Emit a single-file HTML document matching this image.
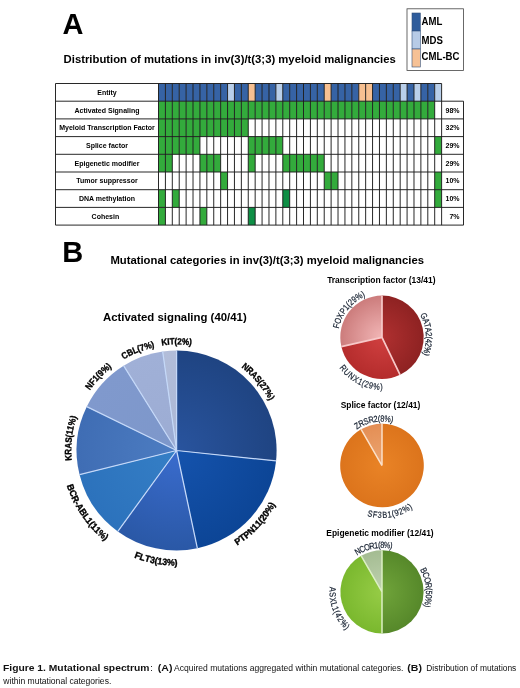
<!DOCTYPE html>
<html><head><meta charset="utf-8"><title>Figure 1</title>
<style>
html,body{margin:0;padding:0;background:#fff;}
body{width:520px;height:688px;overflow:hidden;font-family:"Liberation Sans",sans-serif;}
svg{display:block;font-family:"Liberation Sans",sans-serif;filter:blur(0.5px);}
text{font-family:"Liberation Sans",sans-serif;}
</style></head><body>
<svg width="520" height="688" viewBox="0 0 520 688">
<defs>
<radialGradient id="g0_0" gradientUnits="userSpaceOnUse" cx="176.6" cy="450.5" r="100"><stop offset="0" stop-color="#29549e"/><stop offset="1" stop-color="#1f4482"/></radialGradient>
<radialGradient id="g0_1" gradientUnits="userSpaceOnUse" cx="176.6" cy="450.5" r="100"><stop offset="0" stop-color="#1553ad"/><stop offset="1" stop-color="#0c4596"/></radialGradient>
<radialGradient id="g0_2" gradientUnits="userSpaceOnUse" cx="176.6" cy="450.5" r="100"><stop offset="0" stop-color="#3a6cce"/><stop offset="1" stop-color="#2a58a6"/></radialGradient>
<radialGradient id="g0_3" gradientUnits="userSpaceOnUse" cx="176.6" cy="450.5" r="100"><stop offset="0" stop-color="#357fc6"/><stop offset="1" stop-color="#2c72bc"/></radialGradient>
<radialGradient id="g0_4" gradientUnits="userSpaceOnUse" cx="176.6" cy="450.5" r="100"><stop offset="0" stop-color="#4d7dc2"/><stop offset="1" stop-color="#3f6db4"/></radialGradient>
<radialGradient id="g0_5" gradientUnits="userSpaceOnUse" cx="176.6" cy="450.5" r="100"><stop offset="0" stop-color="#7d97ca"/><stop offset="1" stop-color="#8099cd"/></radialGradient>
<radialGradient id="g0_6" gradientUnits="userSpaceOnUse" cx="176.6" cy="450.5" r="100"><stop offset="0" stop-color="#9cacd3"/><stop offset="1" stop-color="#a0b0d7"/></radialGradient>
<radialGradient id="g0_7" gradientUnits="userSpaceOnUse" cx="176.6" cy="450.5" r="100"><stop offset="0" stop-color="#aab7d5"/><stop offset="1" stop-color="#b2bdd9"/></radialGradient>
<radialGradient id="g8_0" gradientUnits="userSpaceOnUse" cx="382" cy="337.3" r="41.7"><stop offset="0" stop-color="#b03030"/><stop offset="1" stop-color="#8e2222"/></radialGradient>
<radialGradient id="g8_1" gradientUnits="userSpaceOnUse" cx="382" cy="337.3" r="41.7"><stop offset="0" stop-color="#d04040"/><stop offset="1" stop-color="#b42c2c"/></radialGradient>
<radialGradient id="g8_2" gradientUnits="userSpaceOnUse" cx="382" cy="337.3" r="41.7"><stop offset="0" stop-color="#f2b6b6"/><stop offset="1" stop-color="#cc7c7c"/></radialGradient>
<radialGradient id="g11_0" gradientUnits="userSpaceOnUse" cx="382" cy="465.5" r="41.8"><stop offset="0" stop-color="#e98326"/><stop offset="1" stop-color="#dc741c"/></radialGradient>
<radialGradient id="g11_1" gradientUnits="userSpaceOnUse" cx="382" cy="465.5" r="41.8"><stop offset="0" stop-color="#eca672"/><stop offset="1" stop-color="#e48e54"/></radialGradient>
<radialGradient id="g13_0" gradientUnits="userSpaceOnUse" cx="382" cy="591.8" r="41.6"><stop offset="0" stop-color="#70a43a"/><stop offset="1" stop-color="#56882a"/></radialGradient>
<radialGradient id="g13_1" gradientUnits="userSpaceOnUse" cx="382" cy="591.8" r="41.6"><stop offset="0" stop-color="#96cc46"/><stop offset="1" stop-color="#7ab82e"/></radialGradient>
<radialGradient id="g13_2" gradientUnits="userSpaceOnUse" cx="382" cy="591.8" r="41.6"><stop offset="0" stop-color="#c0d2b0"/><stop offset="1" stop-color="#a4bc92"/></radialGradient>
</defs>
<rect width="520" height="688" fill="#fff"/>
<text x="62.4" y="33.5" font-size="29" font-weight="700">A</text>
<text x="63.6" y="63.3" font-size="11.3" font-weight="700" textLength="332.2" lengthAdjust="spacingAndGlyphs">Distribution of mutations in inv(3)/t(3;3) myeloid malignancies</text>
<rect x="407" y="8.8" width="56.5" height="61.6" fill="#fff" stroke="#444" stroke-width="0.8"/>
<rect x="412" y="13.0" width="8.3" height="18.0" fill="#2e5c9c" stroke="#33507a" stroke-width="0.6"/>
<text transform="translate(421.6,25.3) scale(0.925,1)" font-size="10.4" font-weight="700">AML</text>
<rect x="412" y="31.0" width="8.3" height="18.0" fill="#b7cbe6" stroke="#33507a" stroke-width="0.6"/>
<text transform="translate(421.6,43.5) scale(0.925,1)" font-size="10.4" font-weight="700">MDS</text>
<rect x="412" y="49.0" width="8.3" height="18.0" fill="#f6c195" stroke="#33507a" stroke-width="0.6"/>
<text transform="translate(421.6,60.4) scale(0.925,1)" font-size="10.4" font-weight="700">CML-BC</text>
<rect x="158.50" y="83.50" width="6.91" height="17.70" fill="#3663a5"/>
<rect x="165.41" y="83.50" width="6.91" height="17.70" fill="#3663a5"/>
<rect x="172.31" y="83.50" width="6.91" height="17.70" fill="#3663a5"/>
<rect x="179.22" y="83.50" width="6.91" height="17.70" fill="#3663a5"/>
<rect x="186.12" y="83.50" width="6.91" height="17.70" fill="#3663a5"/>
<rect x="193.03" y="83.50" width="6.91" height="17.70" fill="#3663a5"/>
<rect x="199.93" y="83.50" width="6.91" height="17.70" fill="#3663a5"/>
<rect x="206.84" y="83.50" width="6.91" height="17.70" fill="#3663a5"/>
<rect x="213.74" y="83.50" width="6.91" height="17.70" fill="#3663a5"/>
<rect x="220.65" y="83.50" width="6.91" height="17.70" fill="#3663a5"/>
<rect x="227.55" y="83.50" width="6.91" height="17.70" fill="#b9cfea"/>
<rect x="234.45" y="83.50" width="6.91" height="17.70" fill="#3663a5"/>
<rect x="241.36" y="83.50" width="6.91" height="17.70" fill="#3663a5"/>
<rect x="248.26" y="83.50" width="6.91" height="17.70" fill="#f7c091"/>
<rect x="255.17" y="83.50" width="6.91" height="17.70" fill="#3663a5"/>
<rect x="262.07" y="83.50" width="6.91" height="17.70" fill="#3663a5"/>
<rect x="268.98" y="83.50" width="6.91" height="17.70" fill="#3663a5"/>
<rect x="275.88" y="83.50" width="6.91" height="17.70" fill="#b9cfea"/>
<rect x="282.79" y="83.50" width="6.91" height="17.70" fill="#3663a5"/>
<rect x="289.69" y="83.50" width="6.91" height="17.70" fill="#3663a5"/>
<rect x="296.60" y="83.50" width="6.91" height="17.70" fill="#3663a5"/>
<rect x="303.50" y="83.50" width="6.91" height="17.70" fill="#3663a5"/>
<rect x="310.41" y="83.50" width="6.91" height="17.70" fill="#3663a5"/>
<rect x="317.31" y="83.50" width="6.91" height="17.70" fill="#3663a5"/>
<rect x="324.22" y="83.50" width="6.91" height="17.70" fill="#f7c091"/>
<rect x="331.12" y="83.50" width="6.91" height="17.70" fill="#3663a5"/>
<rect x="338.03" y="83.50" width="6.91" height="17.70" fill="#3663a5"/>
<rect x="344.94" y="83.50" width="6.91" height="17.70" fill="#3663a5"/>
<rect x="351.84" y="83.50" width="6.91" height="17.70" fill="#3663a5"/>
<rect x="358.75" y="83.50" width="6.91" height="17.70" fill="#f7c091"/>
<rect x="365.65" y="83.50" width="6.91" height="17.70" fill="#f7c091"/>
<rect x="372.56" y="83.50" width="6.91" height="17.70" fill="#3663a5"/>
<rect x="379.46" y="83.50" width="6.91" height="17.70" fill="#3663a5"/>
<rect x="386.37" y="83.50" width="6.91" height="17.70" fill="#3663a5"/>
<rect x="393.27" y="83.50" width="6.91" height="17.70" fill="#3663a5"/>
<rect x="400.18" y="83.50" width="6.91" height="17.70" fill="#b9cfea"/>
<rect x="407.08" y="83.50" width="6.91" height="17.70" fill="#3663a5"/>
<rect x="413.99" y="83.50" width="6.91" height="17.70" fill="#b9cfea"/>
<rect x="420.89" y="83.50" width="6.91" height="17.70" fill="#3663a5"/>
<rect x="427.80" y="83.50" width="6.91" height="17.70" fill="#3663a5"/>
<rect x="434.70" y="83.50" width="6.91" height="17.70" fill="#b9cfea"/>
<rect x="158.50" y="101.20" width="6.91" height="17.70" fill="#33ab3c"/>
<rect x="165.41" y="101.20" width="6.91" height="17.70" fill="#33ab3c"/>
<rect x="172.31" y="101.20" width="6.91" height="17.70" fill="#33ab3c"/>
<rect x="179.22" y="101.20" width="6.91" height="17.70" fill="#33ab3c"/>
<rect x="186.12" y="101.20" width="6.91" height="17.70" fill="#33ab3c"/>
<rect x="193.03" y="101.20" width="6.91" height="17.70" fill="#33ab3c"/>
<rect x="199.93" y="101.20" width="6.91" height="17.70" fill="#33ab3c"/>
<rect x="206.84" y="101.20" width="6.91" height="17.70" fill="#33ab3c"/>
<rect x="213.74" y="101.20" width="6.91" height="17.70" fill="#33ab3c"/>
<rect x="220.65" y="101.20" width="6.91" height="17.70" fill="#33ab3c"/>
<rect x="227.55" y="101.20" width="6.91" height="17.70" fill="#33ab3c"/>
<rect x="234.45" y="101.20" width="6.91" height="17.70" fill="#33ab3c"/>
<rect x="241.36" y="101.20" width="6.91" height="17.70" fill="#33ab3c"/>
<rect x="248.26" y="101.20" width="6.91" height="17.70" fill="#33ab3c"/>
<rect x="255.17" y="101.20" width="6.91" height="17.70" fill="#33ab3c"/>
<rect x="262.07" y="101.20" width="6.91" height="17.70" fill="#33ab3c"/>
<rect x="268.98" y="101.20" width="6.91" height="17.70" fill="#33ab3c"/>
<rect x="275.88" y="101.20" width="6.91" height="17.70" fill="#33ab3c"/>
<rect x="282.79" y="101.20" width="6.91" height="17.70" fill="#33ab3c"/>
<rect x="289.69" y="101.20" width="6.91" height="17.70" fill="#33ab3c"/>
<rect x="296.60" y="101.20" width="6.91" height="17.70" fill="#33ab3c"/>
<rect x="303.50" y="101.20" width="6.91" height="17.70" fill="#33ab3c"/>
<rect x="310.41" y="101.20" width="6.91" height="17.70" fill="#33ab3c"/>
<rect x="317.31" y="101.20" width="6.91" height="17.70" fill="#33ab3c"/>
<rect x="324.22" y="101.20" width="6.91" height="17.70" fill="#33ab3c"/>
<rect x="331.12" y="101.20" width="6.91" height="17.70" fill="#33ab3c"/>
<rect x="338.03" y="101.20" width="6.91" height="17.70" fill="#33ab3c"/>
<rect x="344.94" y="101.20" width="6.91" height="17.70" fill="#33ab3c"/>
<rect x="351.84" y="101.20" width="6.91" height="17.70" fill="#33ab3c"/>
<rect x="358.75" y="101.20" width="6.91" height="17.70" fill="#33ab3c"/>
<rect x="365.65" y="101.20" width="6.91" height="17.70" fill="#33ab3c"/>
<rect x="372.56" y="101.20" width="6.91" height="17.70" fill="#33ab3c"/>
<rect x="379.46" y="101.20" width="6.91" height="17.70" fill="#33ab3c"/>
<rect x="386.37" y="101.20" width="6.91" height="17.70" fill="#33ab3c"/>
<rect x="393.27" y="101.20" width="6.91" height="17.70" fill="#33ab3c"/>
<rect x="400.18" y="101.20" width="6.91" height="17.70" fill="#33ab3c"/>
<rect x="407.08" y="101.20" width="6.91" height="17.70" fill="#33ab3c"/>
<rect x="413.99" y="101.20" width="6.91" height="17.70" fill="#33ab3c"/>
<rect x="420.89" y="101.20" width="6.91" height="17.70" fill="#33ab3c"/>
<rect x="427.80" y="101.20" width="6.91" height="17.70" fill="#33ab3c"/>
<rect x="158.50" y="118.90" width="6.91" height="17.70" fill="#33ab3c"/>
<rect x="165.41" y="118.90" width="6.91" height="17.70" fill="#33ab3c"/>
<rect x="172.31" y="118.90" width="6.91" height="17.70" fill="#33ab3c"/>
<rect x="179.22" y="118.90" width="6.91" height="17.70" fill="#33ab3c"/>
<rect x="186.12" y="118.90" width="6.91" height="17.70" fill="#33ab3c"/>
<rect x="193.03" y="118.90" width="6.91" height="17.70" fill="#33ab3c"/>
<rect x="199.93" y="118.90" width="6.91" height="17.70" fill="#33ab3c"/>
<rect x="206.84" y="118.90" width="6.91" height="17.70" fill="#33ab3c"/>
<rect x="213.74" y="118.90" width="6.91" height="17.70" fill="#33ab3c"/>
<rect x="220.65" y="118.90" width="6.91" height="17.70" fill="#33ab3c"/>
<rect x="227.55" y="118.90" width="6.91" height="17.70" fill="#33ab3c"/>
<rect x="234.45" y="118.90" width="6.91" height="17.70" fill="#33ab3c"/>
<rect x="241.36" y="118.90" width="6.91" height="17.70" fill="#33ab3c"/>
<rect x="158.50" y="136.60" width="6.91" height="17.70" fill="#33ab3c"/>
<rect x="165.41" y="136.60" width="6.91" height="17.70" fill="#33ab3c"/>
<rect x="172.31" y="136.60" width="6.91" height="17.70" fill="#33ab3c"/>
<rect x="179.22" y="136.60" width="6.91" height="17.70" fill="#33ab3c"/>
<rect x="186.12" y="136.60" width="6.91" height="17.70" fill="#33ab3c"/>
<rect x="193.03" y="136.60" width="6.91" height="17.70" fill="#33ab3c"/>
<rect x="248.26" y="136.60" width="6.91" height="17.70" fill="#33ab3c"/>
<rect x="255.17" y="136.60" width="6.91" height="17.70" fill="#33ab3c"/>
<rect x="262.07" y="136.60" width="6.91" height="17.70" fill="#33ab3c"/>
<rect x="268.98" y="136.60" width="6.91" height="17.70" fill="#33ab3c"/>
<rect x="275.88" y="136.60" width="6.91" height="17.70" fill="#33ab3c"/>
<rect x="434.70" y="136.60" width="6.91" height="17.70" fill="#33ab3c"/>
<rect x="158.50" y="154.30" width="6.91" height="17.70" fill="#33ab3c"/>
<rect x="165.41" y="154.30" width="6.91" height="17.70" fill="#33ab3c"/>
<rect x="199.93" y="154.30" width="6.91" height="17.70" fill="#33ab3c"/>
<rect x="206.84" y="154.30" width="6.91" height="17.70" fill="#33ab3c"/>
<rect x="213.74" y="154.30" width="6.91" height="17.70" fill="#33ab3c"/>
<rect x="248.26" y="154.30" width="6.91" height="17.70" fill="#33ab3c"/>
<rect x="282.79" y="154.30" width="6.91" height="17.70" fill="#33ab3c"/>
<rect x="289.69" y="154.30" width="6.91" height="17.70" fill="#33ab3c"/>
<rect x="296.60" y="154.30" width="6.91" height="17.70" fill="#33ab3c"/>
<rect x="303.50" y="154.30" width="6.91" height="17.70" fill="#33ab3c"/>
<rect x="310.41" y="154.30" width="6.91" height="17.70" fill="#33ab3c"/>
<rect x="317.31" y="154.30" width="6.91" height="17.70" fill="#33ab3c"/>
<rect x="220.65" y="172.00" width="6.91" height="17.70" fill="#33ab3c"/>
<rect x="324.22" y="172.00" width="6.91" height="17.70" fill="#33ab3c"/>
<rect x="331.12" y="172.00" width="6.91" height="17.70" fill="#33ab3c"/>
<rect x="434.70" y="172.00" width="6.91" height="17.70" fill="#33ab3c"/>
<rect x="158.50" y="189.70" width="6.91" height="17.70" fill="#33ab3c"/>
<rect x="172.31" y="189.70" width="6.91" height="17.70" fill="#33ab3c"/>
<rect x="282.79" y="189.70" width="6.91" height="17.70" fill="#0e8f45"/>
<rect x="434.70" y="189.70" width="6.91" height="17.70" fill="#33ab3c"/>
<rect x="158.50" y="207.40" width="6.91" height="17.70" fill="#33ab3c"/>
<rect x="199.93" y="207.40" width="6.91" height="17.70" fill="#33ab3c"/>
<rect x="248.26" y="207.40" width="6.91" height="17.70" fill="#0e8f45"/>
<path d="M55.5,83.50H441.61 M55.5,101.20H463.50 M55.5,118.90H463.50 M55.5,136.60H463.50 M55.5,154.30H463.50 M55.5,172.00H463.50 M55.5,189.70H463.50 M55.5,207.40H463.50 M55.5,225.10H463.50 M158.50,83.5V225.10 M165.41,83.5V225.10 M172.31,83.5V225.10 M179.22,83.5V225.10 M186.12,83.5V225.10 M193.03,83.5V225.10 M199.93,83.5V225.10 M206.84,83.5V225.10 M213.74,83.5V225.10 M220.65,83.5V225.10 M227.55,83.5V225.10 M234.45,83.5V225.10 M241.36,83.5V225.10 M248.26,83.5V225.10 M255.17,83.5V225.10 M262.07,83.5V225.10 M268.98,83.5V225.10 M275.88,83.5V225.10 M282.79,83.5V225.10 M289.69,83.5V225.10 M296.60,83.5V225.10 M303.50,83.5V225.10 M310.41,83.5V225.10 M317.31,83.5V225.10 M324.22,83.5V225.10 M331.12,83.5V225.10 M338.03,83.5V225.10 M344.94,83.5V225.10 M351.84,83.5V225.10 M358.75,83.5V225.10 M365.65,83.5V225.10 M372.56,83.5V225.10 M379.46,83.5V225.10 M386.37,83.5V225.10 M393.27,83.5V225.10 M400.18,83.5V225.10 M407.08,83.5V225.10 M413.99,83.5V225.10 M420.89,83.5V225.10 M427.80,83.5V225.10 M434.70,83.5V225.10 M441.61,83.5V225.10 M55.5,83.5V225.10 M463.5,101.20V225.10" stroke="#1c1c1c" stroke-width="0.95" fill="none"/>
<text x="107.0" y="94.9" font-size="7.0" font-weight="700" text-anchor="middle">Entity</text>
<text x="107.0" y="112.6" font-size="7.0" font-weight="700" text-anchor="middle">Activated Signaling</text>
<text x="459.6" y="112.6" font-size="7" font-weight="700" text-anchor="end">98%</text>
<text x="107.0" y="130.3" font-size="7.0" font-weight="700" text-anchor="middle">Myeloid Transcription Factor</text>
<text x="459.6" y="130.3" font-size="7" font-weight="700" text-anchor="end">32%</text>
<text x="107.0" y="148.0" font-size="7.0" font-weight="700" text-anchor="middle">Splice factor</text>
<text x="459.6" y="148.0" font-size="7" font-weight="700" text-anchor="end">29%</text>
<text x="107.0" y="165.8" font-size="7.0" font-weight="700" text-anchor="middle">Epigenetic modifier</text>
<text x="459.6" y="165.8" font-size="7" font-weight="700" text-anchor="end">29%</text>
<text x="107.0" y="183.4" font-size="7.0" font-weight="700" text-anchor="middle">Tumor suppressor</text>
<text x="459.6" y="183.4" font-size="7" font-weight="700" text-anchor="end">10%</text>
<text x="107.0" y="201.1" font-size="7.0" font-weight="700" text-anchor="middle">DNA methylation</text>
<text x="459.6" y="201.1" font-size="7" font-weight="700" text-anchor="end">10%</text>
<text x="105.4" y="218.8" font-size="7.0" font-weight="700" text-anchor="middle">Cohesin</text>
<text x="459.6" y="218.8" font-size="7" font-weight="700" text-anchor="end">7%</text>
<text x="62.2" y="262.4" font-size="29" font-weight="700">B</text>
<text x="110.4" y="264.3" font-size="11.3" font-weight="700" textLength="313.6" lengthAdjust="spacingAndGlyphs">Mutational categories in inv(3)/t(3;3) myeloid malignancies</text>
<text x="103" y="321" font-size="11.4" font-weight="700">Activated signaling (40/41)</text>
<path d="M176.60,450.50 L176.60,350.50 A100,100 0 0 1 276.05,460.95 Z" fill="url(#g0_0)"/>
<path d="M176.60,450.50 L276.05,460.95 A100,100 0 0 1 197.39,548.31 Z" fill="url(#g0_1)"/>
<path d="M176.60,450.50 L197.39,548.31 A100,100 0 0 1 117.82,531.40 Z" fill="url(#g0_2)"/>
<path d="M176.60,450.50 L117.82,531.40 A100,100 0 0 1 79.57,474.69 Z" fill="url(#g0_3)"/>
<path d="M176.60,450.50 L79.57,474.69 A100,100 0 0 1 86.72,406.66 Z" fill="url(#g0_4)"/>
<path d="M176.60,450.50 L86.72,406.66 A100,100 0 0 1 123.61,365.70 Z" fill="url(#g0_5)"/>
<path d="M176.60,450.50 L123.61,365.70 A100,100 0 0 1 162.68,351.47 Z" fill="url(#g0_6)"/>
<path d="M176.60,450.50 L162.68,351.47 A100,100 0 0 1 176.60,350.50 Z" fill="url(#g0_7)"/>
<path d="M176.6,450.5L176.60,350.50 M176.6,450.5L276.05,460.95 M176.6,450.5L197.39,548.31 M176.6,450.5L117.82,531.40 M176.6,450.5L79.57,474.69 M176.6,450.5L86.72,406.66 M176.6,450.5L123.61,365.70 M176.6,450.5L162.68,351.47" stroke="#c4d8f8" stroke-width="1.25" fill="none"/>
<g font-size="9.2" font-weight="700" fill="#000" stroke="#000" stroke-width="0.38"><text transform="translate(243.42,368.99) rotate(39.34) scale(0.875,1)" text-anchor="middle">N</text><text transform="translate(247.81,372.80) rotate(42.50) scale(0.875,1)" text-anchor="middle">R</text><text transform="translate(251.99,376.84) rotate(45.66) scale(0.875,1)" text-anchor="middle">A</text><text transform="translate(255.79,380.94) rotate(48.70) scale(0.875,1)" text-anchor="middle">S</text><text transform="translate(258.39,384.02) rotate(50.89) scale(0.875,1)" text-anchor="middle">(</text><text transform="translate(260.60,386.83) rotate(52.84) scale(0.875,1)" text-anchor="middle">2</text><text transform="translate(263.22,390.45) rotate(55.27) scale(0.875,1)" text-anchor="middle">7</text><text transform="translate(266.40,395.32) rotate(58.43) scale(0.875,1)" text-anchor="middle">%</text><text transform="translate(268.88,399.57) rotate(61.11) scale(0.875,1)" text-anchor="middle">)</text></g>
<g font-size="9.2" font-weight="700" fill="#000" stroke="#000" stroke-width="0.38"><text transform="translate(239.70,543.76) rotate(-34.08) scale(0.955,1)" text-anchor="middle">P</text><text transform="translate(244.26,540.50) rotate(-36.94) scale(0.955,1)" text-anchor="middle">T</text><text transform="translate(248.67,537.02) rotate(-39.79) scale(0.955,1)" text-anchor="middle">P</text><text transform="translate(253.25,532.99) rotate(-42.90) scale(0.955,1)" text-anchor="middle">N</text><text transform="translate(257.26,529.06) rotate(-45.76) scale(0.955,1)" text-anchor="middle">1</text><text transform="translate(260.60,525.49) rotate(-48.24) scale(0.955,1)" text-anchor="middle">1</text><text transform="translate(263.15,522.53) rotate(-50.23) scale(0.955,1)" text-anchor="middle">(</text><text transform="translate(265.59,519.49) rotate(-52.22) scale(0.955,1)" text-anchor="middle">2</text><text transform="translate(268.50,515.56) rotate(-54.70) scale(0.955,1)" text-anchor="middle">0</text><text transform="translate(272.02,510.28) rotate(-57.93) scale(0.955,1)" text-anchor="middle">%</text><text transform="translate(274.76,505.66) rotate(-60.67) scale(0.955,1)" text-anchor="middle">)</text></g>
<g font-size="9.2" font-weight="700" fill="#000" stroke="#000" stroke-width="0.38"><text transform="translate(136.61,558.54) rotate(20.31) scale(0.955,1)" text-anchor="middle">F</text><text transform="translate(141.68,560.28) rotate(17.64) scale(0.955,1)" text-anchor="middle">L</text><text transform="translate(146.83,561.79) rotate(14.97) scale(0.955,1)" text-anchor="middle">T</text><text transform="translate(151.81,563.00) rotate(12.42) scale(0.955,1)" text-anchor="middle">3</text><text transform="translate(155.64,563.78) rotate(10.48) scale(0.955,1)" text-anchor="middle">(</text><text transform="translate(159.50,564.42) rotate(8.54) scale(0.955,1)" text-anchor="middle">1</text><text transform="translate(164.34,565.05) rotate(6.11) scale(0.955,1)" text-anchor="middle">3</text><text transform="translate(170.67,565.55) rotate(2.95) scale(0.955,1)" text-anchor="middle">%</text><text transform="translate(176.04,565.70) rotate(0.28) scale(0.955,1)" text-anchor="middle">)</text></g>
<g font-size="9.2" font-weight="700" fill="#000" stroke="#000" stroke-width="0.38"><text transform="translate(67.86,488.54) rotate(70.72) scale(0.955,1)" text-anchor="middle">B</text><text transform="translate(70.12,494.47) rotate(67.56) scale(0.955,1)" text-anchor="middle">C</text><text transform="translate(72.70,500.27) rotate(64.41) scale(0.955,1)" text-anchor="middle">R</text><text transform="translate(74.79,504.41) rotate(62.10) scale(0.955,1)" text-anchor="middle">-</text><text transform="translate(77.04,508.46) rotate(59.79) scale(0.955,1)" text-anchor="middle">A</text><text transform="translate(80.38,513.85) rotate(56.64) scale(0.955,1)" text-anchor="middle">B</text><text transform="translate(83.73,518.66) rotate(53.73) scale(0.955,1)" text-anchor="middle">L</text><text transform="translate(86.85,522.72) rotate(51.18) scale(0.955,1)" text-anchor="middle">1</text><text transform="translate(89.35,525.72) rotate(49.23) scale(0.955,1)" text-anchor="middle">(</text><text transform="translate(91.95,528.64) rotate(47.29) scale(0.955,1)" text-anchor="middle">1</text><text transform="translate(95.34,532.16) rotate(44.86) scale(0.955,1)" text-anchor="middle">1</text><text transform="translate(99.96,536.51) rotate(41.70) scale(0.955,1)" text-anchor="middle">%</text><text transform="translate(104.05,539.99) rotate(39.03) scale(0.955,1)" text-anchor="middle">)</text></g>
<g font-size="9.2" font-weight="700" fill="#000" stroke="#000" stroke-width="0.38"><text transform="translate(71.44,457.59) rotate(266.14) scale(0.875,1)" text-anchor="middle">K</text><text transform="translate(71.21,451.78) rotate(269.30) scale(0.875,1)" text-anchor="middle">R</text><text transform="translate(71.30,445.97) rotate(272.46) scale(0.875,1)" text-anchor="middle">A</text><text transform="translate(71.69,440.39) rotate(275.50) scale(0.875,1)" text-anchor="middle">S</text><text transform="translate(72.15,436.39) rotate(277.69) scale(0.875,1)" text-anchor="middle">(</text><text transform="translate(72.69,432.85) rotate(279.64) scale(0.875,1)" text-anchor="middle">1</text><text transform="translate(73.53,428.46) rotate(282.07) scale(0.875,1)" text-anchor="middle">1</text><text transform="translate(74.90,422.81) rotate(285.23) scale(0.875,1)" text-anchor="middle">%</text><text transform="translate(76.31,418.09) rotate(287.91) scale(0.875,1)" text-anchor="middle">)</text></g>
<g font-size="9.2" font-weight="700" fill="#000" stroke="#000" stroke-width="0.38"><text transform="translate(91.58,388.21) rotate(306.23) scale(0.875,1)" text-anchor="middle">N</text><text transform="translate(94.86,383.96) rotate(309.14) scale(0.875,1)" text-anchor="middle">F</text><text transform="translate(97.90,380.39) rotate(311.70) scale(0.875,1)" text-anchor="middle">1</text><text transform="translate(100.33,377.76) rotate(313.64) scale(0.875,1)" text-anchor="middle">(</text><text transform="translate(102.84,375.21) rotate(315.59) scale(0.875,1)" text-anchor="middle">9</text><text transform="translate(107.11,371.26) rotate(318.75) scale(0.875,1)" text-anchor="middle">%</text><text transform="translate(110.88,368.10) rotate(321.42) scale(0.875,1)" text-anchor="middle">)</text></g>
<g font-size="9.2" font-weight="700" fill="#000" stroke="#000" stroke-width="0.38"><text transform="translate(126.09,357.99) rotate(331.36) scale(0.875,1)" text-anchor="middle">C</text><text transform="translate(131.26,355.35) rotate(334.52) scale(0.875,1)" text-anchor="middle">B</text><text transform="translate(136.16,353.16) rotate(337.44) scale(0.875,1)" text-anchor="middle">L</text><text transform="translate(139.70,351.77) rotate(339.51) scale(0.875,1)" text-anchor="middle">(</text><text transform="translate(143.07,350.58) rotate(341.45) scale(0.875,1)" text-anchor="middle">7</text><text transform="translate(148.63,348.88) rotate(344.61) scale(0.875,1)" text-anchor="middle">%</text><text transform="translate(153.41,347.68) rotate(347.29) scale(0.875,1)" text-anchor="middle">)</text></g>
<g font-size="9.2" font-weight="700" fill="#000" stroke="#000" stroke-width="0.38"><text transform="translate(164.55,345.09) rotate(-6.52) scale(0.875,1)" text-anchor="middle">K</text><text transform="translate(168.56,344.71) rotate(-4.35) scale(0.875,1)" text-anchor="middle">I</text><text transform="translate(172.13,344.49) rotate(-2.42) scale(0.875,1)" text-anchor="middle">T</text><text transform="translate(175.93,344.40) rotate(-0.36) scale(0.875,1)" text-anchor="middle">(</text><text transform="translate(179.50,344.44) rotate(1.57) scale(0.875,1)" text-anchor="middle">2</text><text transform="translate(185.31,344.76) rotate(4.71) scale(0.875,1)" text-anchor="middle">%</text><text transform="translate(190.20,345.28) rotate(7.37) scale(0.875,1)" text-anchor="middle">)</text></g>
<text x="381.3" y="283.3" font-size="8.45" font-weight="700" text-anchor="middle">Transcription factor (13/41)</text>
<path d="M382.00,337.30 L382.00,295.60 A41.7,41.7 0 0 1 400.09,374.87 Z" fill="url(#g8_0)"/>
<path d="M382.00,337.30 L400.09,374.87 A41.7,41.7 0 0 1 341.35,346.58 Z" fill="url(#g8_1)"/>
<path d="M382.00,337.30 L341.35,346.58 A41.7,41.7 0 0 1 382.00,295.60 Z" fill="url(#g8_2)"/>
<path d="M382,337.3L382.00,295.60 M382,337.3L400.09,374.87 M382,337.3L341.35,346.58" stroke="#f7c8c8" stroke-width="1.7" fill="none"/>
<g font-size="8.9" font-weight="400" fill="#131e2e" stroke="#131e2e" stroke-width="0.2"><text transform="translate(421.24,317.39) rotate(63.09) scale(0.82,1)" text-anchor="middle">G</text><text transform="translate(423.24,321.95) rotate(69.58) scale(0.82,1)" text-anchor="middle">A</text><text transform="translate(424.56,326.15) rotate(75.32) scale(0.82,1)" text-anchor="middle">T</text><text transform="translate(425.46,330.46) rotate(81.06) scale(0.82,1)" text-anchor="middle">A</text><text transform="translate(425.92,334.65) rotate(86.55) scale(0.82,1)" text-anchor="middle">2</text><text transform="translate(426.00,337.71) rotate(90.54) scale(0.82,1)" text-anchor="middle">(</text><text transform="translate(425.86,340.78) rotate(94.53) scale(0.82,1)" text-anchor="middle">4</text><text transform="translate(425.39,344.58) rotate(99.53) scale(0.82,1)" text-anchor="middle">2</text><text transform="translate(424.29,349.44) rotate(106.02) scale(0.82,1)" text-anchor="middle">%</text><text transform="translate(422.94,353.43) rotate(111.50) scale(0.82,1)" text-anchor="middle">)</text></g>
<g font-size="8.9" font-weight="400" fill="#131e2e" stroke="#131e2e" stroke-width="0.2"><text transform="translate(340.82,369.87) rotate(51.66) scale(0.82,1)" text-anchor="middle">R</text><text transform="translate(344.89,374.43) rotate(44.99) scale(0.82,1)" text-anchor="middle">U</text><text transform="translate(349.46,378.50) rotate(38.31) scale(0.82,1)" text-anchor="middle">N</text><text transform="translate(354.27,381.88) rotate(31.89) scale(0.82,1)" text-anchor="middle">X</text><text transform="translate(358.79,384.39) rotate(26.23) scale(0.82,1)" text-anchor="middle">1</text><text transform="translate(362.23,385.94) rotate(22.12) scale(0.82,1)" text-anchor="middle">(</text><text transform="translate(365.77,387.23) rotate(18.01) scale(0.82,1)" text-anchor="middle">2</text><text transform="translate(370.31,388.48) rotate(12.87) scale(0.82,1)" text-anchor="middle">9</text><text transform="translate(376.34,389.49) rotate(6.19) scale(0.82,1)" text-anchor="middle">%</text><text transform="translate(381.51,389.80) rotate(0.54) scale(0.82,1)" text-anchor="middle">)</text></g>
<g font-size="8.9" font-weight="400" fill="#131e2e" stroke="#131e2e" stroke-width="0.2"><text transform="translate(339.29,326.71) rotate(283.93) scale(0.82,1)" text-anchor="middle">F</text><text transform="translate(340.81,321.83) rotate(290.58) scale(0.82,1)" text-anchor="middle">O</text><text transform="translate(342.97,316.98) rotate(297.51) scale(0.82,1)" text-anchor="middle">X</text><text transform="translate(345.48,312.76) rotate(303.90) scale(0.82,1)" text-anchor="middle">P</text><text transform="translate(348.18,309.16) rotate(309.76) scale(0.82,1)" text-anchor="middle">1</text><text transform="translate(350.36,306.72) rotate(314.03) scale(0.82,1)" text-anchor="middle">(</text><text transform="translate(352.72,304.45) rotate(318.29) scale(0.82,1)" text-anchor="middle">2</text><text transform="translate(355.90,301.88) rotate(323.62) scale(0.82,1)" text-anchor="middle">9</text><text transform="translate(360.36,298.99) rotate(330.55) scale(0.82,1)" text-anchor="middle">%</text><text transform="translate(364.39,296.98) rotate(336.40) scale(0.82,1)" text-anchor="middle">)</text></g>
<text x="380.5" y="408.3" font-size="8.45" font-weight="700" text-anchor="middle">Splice factor (12/41)</text>
<path d="M382.00,465.50 L382.00,423.70 A41.8,41.8 0 1 1 361.10,429.30 Z" fill="url(#g11_0)"/>
<path d="M382.00,465.50 L361.10,429.30 A41.8,41.8 0 0 1 382.00,423.70 Z" fill="url(#g11_1)"/>
<path d="M382,465.5L382.00,423.70 M382,465.5L361.10,429.30" stroke="#fbe0c8" stroke-width="1.5" fill="none"/>
<g font-size="8.9" font-weight="400" fill="#131e2e" stroke="#131e2e" stroke-width="0.2"><text transform="translate(369.38,516.46) rotate(13.91) scale(0.82,1)" text-anchor="middle">S</text><text transform="translate(374.70,517.49) rotate(8.00) scale(0.82,1)" text-anchor="middle">F</text><text transform="translate(379.62,517.95) rotate(2.59) scale(0.82,1)" text-anchor="middle">3</text><text transform="translate(384.81,517.92) rotate(-3.07) scale(0.82,1)" text-anchor="middle">B</text><text transform="translate(389.97,517.39) rotate(-8.73) scale(0.82,1)" text-anchor="middle">1</text><text transform="translate(393.67,516.69) rotate(-12.85) scale(0.82,1)" text-anchor="middle">(</text><text transform="translate(397.32,515.72) rotate(-16.96) scale(0.82,1)" text-anchor="middle">9</text><text transform="translate(401.76,514.14) rotate(-22.11) scale(0.82,1)" text-anchor="middle">2</text><text transform="translate(407.29,511.51) rotate(-28.80) scale(0.82,1)" text-anchor="middle">%</text><text transform="translate(411.70,508.79) rotate(-34.46) scale(0.82,1)" text-anchor="middle">)</text></g>
<g font-size="8.9" font-weight="400" fill="#131e2e" stroke="#131e2e" stroke-width="0.2"><text transform="translate(358.54,428.28) rotate(327.78) scale(0.82,1)" text-anchor="middle">Z</text><text transform="translate(362.60,426.01) rotate(333.84) scale(0.82,1)" text-anchor="middle">R</text><text transform="translate(367.06,424.11) rotate(340.15) scale(0.82,1)" text-anchor="middle">S</text><text transform="translate(371.70,422.72) rotate(346.47) scale(0.82,1)" text-anchor="middle">R</text><text transform="translate(376.09,421.90) rotate(352.28) scale(0.82,1)" text-anchor="middle">2</text><text transform="translate(379.17,421.59) rotate(356.32) scale(0.82,1)" text-anchor="middle">(</text><text transform="translate(382.28,421.50) rotate(360.36) scale(0.82,1)" text-anchor="middle">8</text><text transform="translate(387.31,421.82) rotate(366.93) scale(0.82,1)" text-anchor="middle">%</text><text transform="translate(391.51,422.54) rotate(372.49) scale(0.82,1)" text-anchor="middle">)</text></g>
<text x="380" y="535.6" font-size="8.45" font-weight="700" text-anchor="middle">Epigenetic modifier (12/41)</text>
<path d="M382.00,591.80 L382.00,550.20 A41.6,41.6 0 0 1 382.00,633.40 Z" fill="url(#g13_0)"/>
<path d="M382.00,591.80 L382.00,633.40 A41.6,41.6 0 0 1 361.20,555.77 Z" fill="url(#g13_1)"/>
<path d="M382.00,591.80 L361.20,555.77 A41.6,41.6 0 0 1 382.00,550.20 Z" fill="url(#g13_2)"/>
<path d="M382,591.8L382.00,550.20 M382,591.8L382.00,633.40 M382,591.8L361.20,555.77" stroke="#dcefc4" stroke-width="1.5" fill="none"/>
<g font-size="8.9" font-weight="400" fill="#131e2e" stroke="#131e2e" stroke-width="0.2"><text transform="translate(421.18,571.78) rotate(62.94) scale(0.82,1)" text-anchor="middle">B</text><text transform="translate(423.10,576.08) rotate(69.07) scale(0.82,1)" text-anchor="middle">C</text><text transform="translate(424.63,580.92) rotate(75.68) scale(0.82,1)" text-anchor="middle">O</text><text transform="translate(425.60,585.90) rotate(82.29) scale(0.82,1)" text-anchor="middle">R</text><text transform="translate(425.94,589.46) rotate(86.95) scale(0.82,1)" text-anchor="middle">(</text><text transform="translate(425.99,592.47) rotate(90.87) scale(0.82,1)" text-anchor="middle">5</text><text transform="translate(425.78,596.22) rotate(95.77) scale(0.82,1)" text-anchor="middle">0</text><text transform="translate(425.02,601.06) rotate(102.14) scale(0.82,1)" text-anchor="middle">%</text><text transform="translate(423.96,605.05) rotate(107.53) scale(0.82,1)" text-anchor="middle">)</text></g>
<g font-size="8.9" font-weight="400" fill="#131e2e" stroke="#131e2e" stroke-width="0.2"><text transform="translate(329.57,589.11) rotate(92.94) scale(0.82,1)" text-anchor="middle">A</text><text transform="translate(329.58,594.71) rotate(86.83) scale(0.82,1)" text-anchor="middle">S</text><text transform="translate(330.19,600.27) rotate(80.71) scale(0.82,1)" text-anchor="middle">X</text><text transform="translate(331.26,605.30) rotate(75.10) scale(0.82,1)" text-anchor="middle">L</text><text transform="translate(332.66,609.75) rotate(70.01) scale(0.82,1)" text-anchor="middle">1</text><text transform="translate(334.07,613.21) rotate(65.93) scale(0.82,1)" text-anchor="middle">(</text><text transform="translate(335.71,616.57) rotate(61.85) scale(0.82,1)" text-anchor="middle">4</text><text transform="translate(338.09,620.58) rotate(56.75) scale(0.82,1)" text-anchor="middle">2</text><text transform="translate(341.71,625.46) rotate(50.13) scale(0.82,1)" text-anchor="middle">%</text><text transform="translate(345.18,629.23) rotate(44.53) scale(0.82,1)" text-anchor="middle">)</text></g>
<g font-size="8.9" font-weight="400" fill="#131e2e" stroke="#131e2e" stroke-width="0.2"><text transform="translate(359.35,554.08) rotate(329.01) scale(0.82,1)" text-anchor="middle">N</text><text transform="translate(363.43,551.91) rotate(335.03) scale(0.82,1)" text-anchor="middle">C</text><text transform="translate(367.88,550.13) rotate(341.29) scale(0.82,1)" text-anchor="middle">O</text><text transform="translate(372.51,548.84) rotate(347.54) scale(0.82,1)" text-anchor="middle">R</text><text transform="translate(376.54,548.14) rotate(352.87) scale(0.82,1)" text-anchor="middle">1</text><text transform="translate(379.38,547.88) rotate(356.58) scale(0.82,1)" text-anchor="middle">(</text><text transform="translate(382.22,547.80) rotate(360.29) scale(0.82,1)" text-anchor="middle">8</text><text transform="translate(386.84,548.07) rotate(366.32) scale(0.82,1)" text-anchor="middle">%</text><text transform="translate(390.71,548.67) rotate(371.41) scale(0.82,1)" text-anchor="middle">)</text></g>
<text x="3.0" y="670.5" font-size="9.9" font-weight="700" textLength="146.5" lengthAdjust="spacingAndGlyphs" fill="#111">Figure 1. Mutational spectrum</text>
<text x="150.2" y="670.5" font-size="9.6" font-weight="400" textLength="2.6" lengthAdjust="spacingAndGlyphs" fill="#111">:</text>
<text x="157.8" y="670.5" font-size="9.9" font-weight="700" textLength="14.6" lengthAdjust="spacingAndGlyphs" fill="#111">(A)</text>
<text x="174" y="670.5" font-size="9.6" font-weight="400" textLength="229.5" lengthAdjust="spacingAndGlyphs" fill="#111">Acquired mutations aggregated within mutational categories.</text>
<text x="407.3" y="670.5" font-size="9.9" font-weight="700" textLength="14.6" lengthAdjust="spacingAndGlyphs" fill="#111">(B)</text>
<text x="426.3" y="670.5" font-size="9.6" font-weight="400" textLength="90" lengthAdjust="spacingAndGlyphs" fill="#111">Distribution of mutations</text>
<text x="3.3" y="684" font-size="9.6" font-weight="400" textLength="108" lengthAdjust="spacingAndGlyphs" fill="#111">within mutational categories.</text>
</svg>
</body></html>
